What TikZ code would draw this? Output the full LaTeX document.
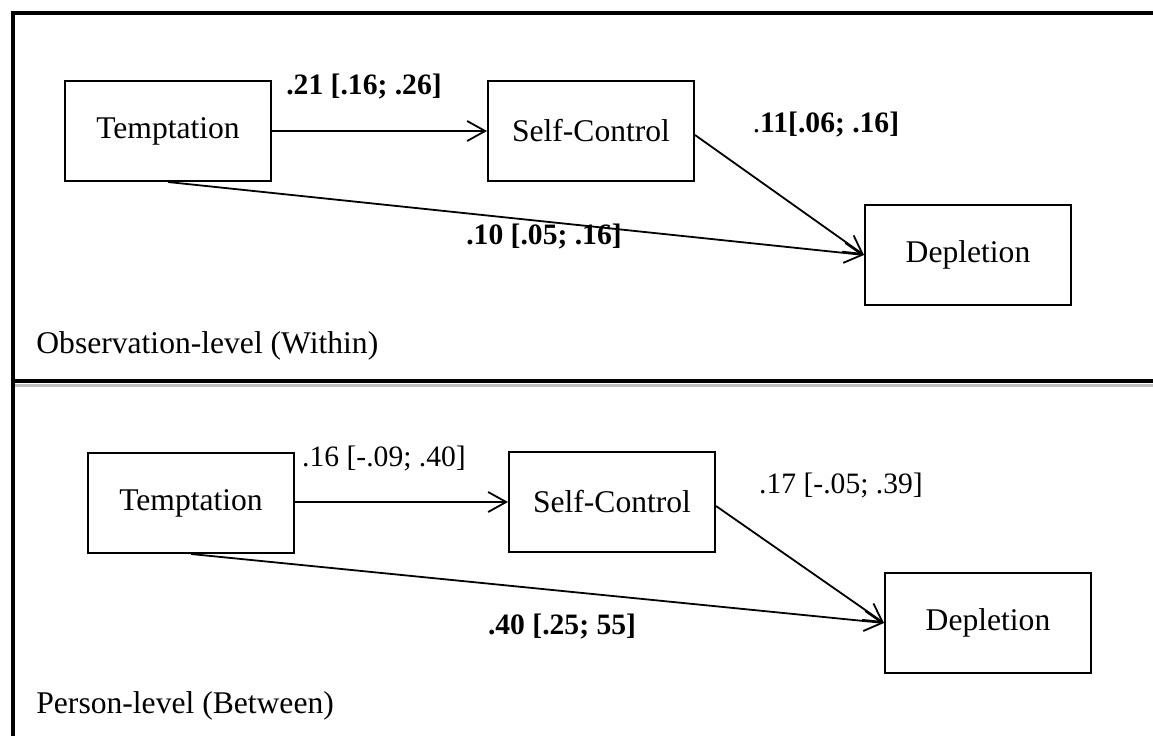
\documentclass[tikz,border=0pt]{standalone}
\usepackage{fontspec}
\setmainfont{Liberation Serif}
\usetikzlibrary{positioning,arrows.meta}

\begin{document}
\begin{tikzpicture}[x=0.5pt, y=-0.5pt,
  box/.style={draw, line width=1pt, minimum width=103pt, minimum height=50pt, inner sep=0pt, font=\fontsize{15.8}{18}\selectfont},
  lab/.style={inner sep=0pt, font=\fontsize{14.8}{18}\selectfont},
  title/.style={anchor=west, inner sep=0pt, font=\fontsize{15.8}{18}\selectfont},
  conn/.style={line width=0.9pt, -{Straight Barb[length=9pt, width=10pt, line width=0.9pt]}}]
\useasboundingbox (0,0) rectangle (1153,736);

% frame
\draw[line width=2pt] (1153,13) -- (13,13) -- (13,736);
\draw[line width=2pt] (13,381) -- (1153,381);
\draw[line width=1.5pt, black!25] (15,385) -- (1153,385);

% observation-level
\node[box] (tempW) at (168,131) {Temptation};
\node[box] (selfW) at (591,131) {Self-Control};
\node[box] (deplW) at (968,255) {Depletion};

\draw[conn] (tempW.east) -- (selfW.west);
\draw[conn] ([yshift=-2pt]selfW.east) -- (deplW.west);
\draw[conn] (tempW.south) -- (deplW.west);

\node[lab] (lw1) at (364,87) {\textbf{.21 [.16; .26]}};
\node[lab] (lw2) at (826,125) {.\textbf{11[.06; .16]}};
\node[lab] (lw3) at (544,237) {\textbf{.10 [.05; .16]}};
\node[title] (tw) at (36,346) {Observation-level (Within)};

% person-level
\node[box] (tempB) at (191,503) {Temptation};
\node[box] (selfB) at (612,502) {Self-Control};
\node[box] (deplB) at (988,623) {Depletion};

\draw[conn] (tempB.east |- selfB.west) -- (selfB.west);
\draw[conn] ([yshift=-2pt]selfB.east) -- (deplB.west);
\draw[conn] (tempB.south) -- (deplB.west);

\node[lab] (lb1) at (384,458) {.16 [-.09; .40]};
\node[lab] (lb2) at (841,485) {.17 [-.05; .39]};
\node[lab] (lb3) at (562,627) {\textbf{.40 [.25; 55]}};
\node[title] (tb) at (36,706) {Person-level (Between)};

\end{tikzpicture}
\end{document}
